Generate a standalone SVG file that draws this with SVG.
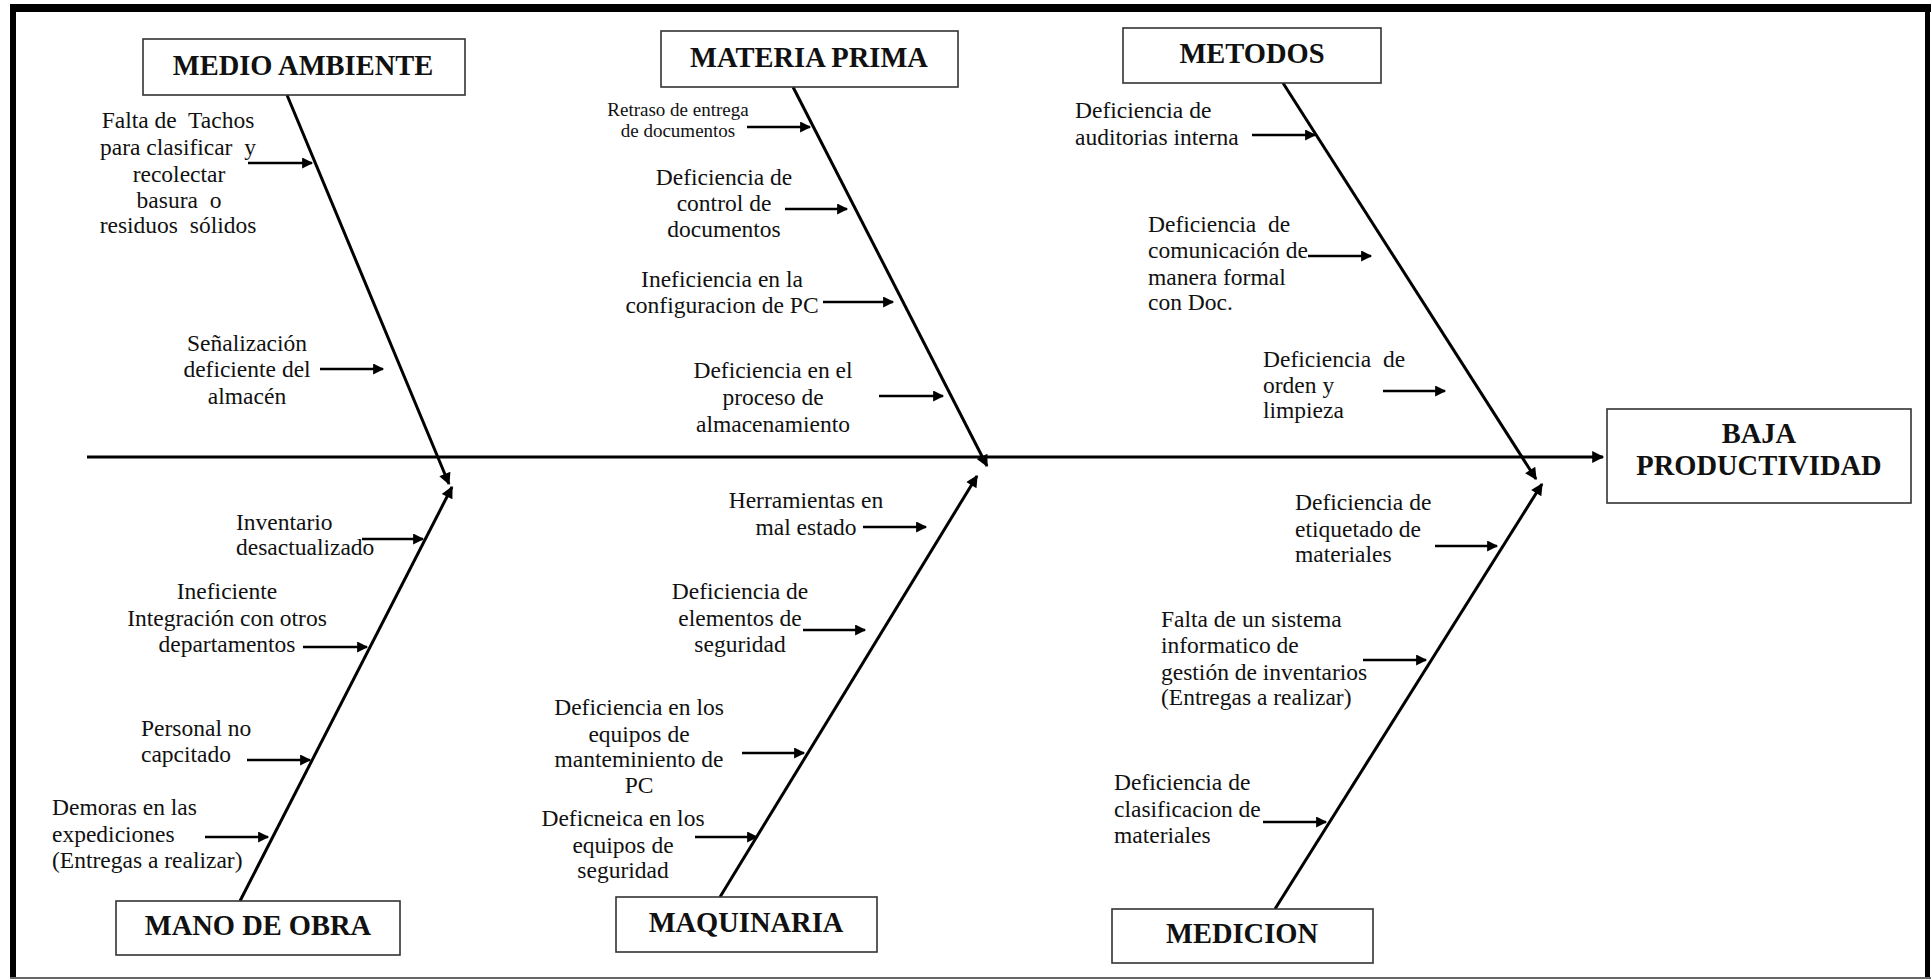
<svg xmlns="http://www.w3.org/2000/svg" width="1931" height="979" viewBox="0 0 1931 979">
<style>
text{font-family:"Liberation Serif","Times New Roman",serif;fill:#111}
.t{font-size:23.5px}
.s{font-size:19px}
.h{font-size:28.5px;font-weight:bold;text-anchor:middle}
.c{text-anchor:middle}
.box{fill:#fff;stroke:#333;stroke-width:1.6}
.bone{stroke:#000;stroke-width:3;fill:none}
.ca{stroke:#000;stroke-width:2.6;fill:none;marker-end:url(#ah)}
</style>
<defs>
<marker id="ah" viewBox="0 0 10 10" refX="9" refY="5" markerWidth="14" markerHeight="11" markerUnits="userSpaceOnUse" orient="auto"><path d="M0,0 L10,5 L0,10 z" fill="#000"/></marker>
<marker id="bh" viewBox="0 0 10 10" refX="9" refY="5" markerWidth="15" markerHeight="12" markerUnits="userSpaceOnUse" orient="auto"><path d="M0,0 L10,5 L0,10 z" fill="#000"/></marker>
</defs>
<rect x="0" y="0" width="1931" height="979" fill="#fff"/>
<g id="frame">
<rect x="10" y="4" width="1921" height="8" fill="#000"/>
<rect x="10" y="4" width="6" height="975" fill="#000"/>
<rect x="1925" y="4" width="5" height="975" fill="#000"/>
<rect x="10" y="977" width="1921" height="2" fill="#666"/>
</g>
<g id="connectors">
<line class="bone" x1="87" y1="457" x2="1603" y2="457" marker-end="url(#bh)"/>
<line class="bone" x1="287" y1="95" x2="449" y2="484" marker-end="url(#bh)"/>
<line class="bone" x1="240" y1="901" x2="452" y2="487" marker-end="url(#bh)"/>
<line class="bone" x1="793" y1="87" x2="987" y2="466" marker-end="url(#bh)"/>
<line class="bone" x1="720" y1="897" x2="977" y2="476" marker-end="url(#bh)"/>
<line class="bone" x1="1283" y1="83" x2="1536" y2="479" marker-end="url(#bh)"/>
<line class="bone" x1="1275" y1="909" x2="1542" y2="484" marker-end="url(#bh)"/>
<line class="ca" x1="248" y1="163" x2="312" y2="163"/>
<line class="ca" x1="320" y1="369" x2="383" y2="369"/>
<line class="ca" x1="747" y1="127" x2="810" y2="127"/>
<line class="ca" x1="785" y1="209" x2="847" y2="209"/>
<line class="ca" x1="823" y1="302" x2="893" y2="302"/>
<line class="ca" x1="879" y1="396" x2="943" y2="396"/>
<line class="ca" x1="1252" y1="135" x2="1315" y2="135"/>
<line class="ca" x1="1308" y1="256" x2="1371" y2="256"/>
<line class="ca" x1="1383" y1="391" x2="1445" y2="391"/>
<line class="ca" x1="362" y1="539" x2="423" y2="539"/>
<line class="ca" x1="303" y1="647" x2="367" y2="647"/>
<line class="ca" x1="247" y1="760" x2="310" y2="760"/>
<line class="ca" x1="205" y1="837" x2="268" y2="837"/>
<line class="ca" x1="863" y1="527" x2="926" y2="527"/>
<line class="ca" x1="803" y1="630" x2="865" y2="630"/>
<line class="ca" x1="742" y1="753" x2="804" y2="753"/>
<line class="ca" x1="695" y1="837" x2="757" y2="837"/>
<line class="ca" x1="1435" y1="546" x2="1497" y2="546"/>
<line class="ca" x1="1363" y1="660" x2="1426" y2="660"/>
<line class="ca" x1="1263" y1="822" x2="1326" y2="822"/>
</g>
<g id="effect">
<rect class="box" x="1607" y="409" width="304" height="94"/>
<text class="h" x="1759" y="443">BAJA</text>
<text class="h" x="1759" y="475">PRODUCTIVIDAD</text>
</g>
<g id="cat-medio-ambiente">
<rect class="box" x="143" y="39" width="322" height="56"/>
<text class="h" x="303" y="75">MEDIO AMBIENTE</text>
</g>
<g id="cat-materia-prima">
<rect class="box" x="661" y="31" width="297" height="56"/>
<text class="h" x="809" y="67">MATERIA PRIMA</text>
</g>
<g id="cat-metodos">
<rect class="box" x="1123" y="28" width="258" height="55"/>
<text class="h" x="1252" y="63">METODOS</text>
</g>
<g id="cat-mano-de-obra">
<rect class="box" x="116" y="901" width="284" height="54"/>
<text class="h" x="258" y="935">MANO DE OBRA</text>
</g>
<g id="cat-maquinaria">
<rect class="box" x="616" y="897" width="261" height="55"/>
<text class="h" x="746" y="932">MAQUINARIA</text>
</g>
<g id="cat-medicion">
<rect class="box" x="1112" y="909" width="261" height="54"/>
<text class="h" x="1242" y="943">MEDICION</text>
</g>
<g id="cause-ma1">
<text class="t c" x="178" y="128" xml:space="preserve">Falta de  Tachos</text>
<text class="t c" x="178" y="155" xml:space="preserve">para clasificar  y</text>
<text class="t c" x="179" y="182">recolectar</text>
<text class="t c" x="179" y="208" xml:space="preserve">basura  o</text>
<text class="t c" x="178" y="233" xml:space="preserve">residuos  sólidos</text>
</g>
<g id="cause-ma2">
<text class="t c" x="247" y="351">Señalización</text>
<text class="t c" x="247" y="377">deficiente del</text>
<text class="t c" x="247" y="404">almacén</text>
</g>
<g id="cause-mp1">
<text class="s c" x="678" y="116">Retraso de entrega</text>
<text class="s c" x="678" y="137">de documentos</text>
</g>
<g id="cause-mp2">
<text class="t c" x="724" y="185">Deficiencia de</text>
<text class="t c" x="724" y="211">control de</text>
<text class="t c" x="724" y="237">documentos</text>
</g>
<g id="cause-mp3">
<text class="t c" x="722" y="287">Ineficiencia en la</text>
<text class="t c" x="722" y="313">configuracion de PC</text>
</g>
<g id="cause-mp4">
<text class="t c" x="773" y="378">Deficiencia en el</text>
<text class="t c" x="773" y="405">proceso de</text>
<text class="t c" x="773" y="432">almacenamiento</text>
</g>
<g id="cause-me1">
<text class="t" x="1075" y="118">Deficiencia de</text>
<text class="t" x="1075" y="145">auditorias interna</text>
</g>
<g id="cause-me2">
<text class="t" x="1148" y="232" xml:space="preserve">Deficiencia  de</text>
<text class="t" x="1148" y="258">comunicación de</text>
<text class="t" x="1148" y="285">manera formal</text>
<text class="t" x="1148" y="310">con Doc.</text>
</g>
<g id="cause-me3">
<text class="t" x="1263" y="367" xml:space="preserve">Deficiencia  de</text>
<text class="t" x="1263" y="393">orden y</text>
<text class="t" x="1263" y="418">limpieza</text>
</g>
<g id="cause-mo1">
<text class="t" x="236" y="530">Inventario</text>
<text class="t" x="236" y="555">desactualizado</text>
</g>
<g id="cause-mo2">
<text class="t c" x="227" y="599">Ineficiente</text>
<text class="t c" x="227" y="626">Integración con otros</text>
<text class="t c" x="227" y="652">departamentos</text>
</g>
<g id="cause-mo3">
<text class="t" x="141" y="736">Personal no</text>
<text class="t" x="141" y="762">capcitado</text>
</g>
<g id="cause-mo4">
<text class="t" x="52" y="815">Demoras en las</text>
<text class="t" x="52" y="842">expediciones</text>
<text class="t" x="52" y="868">(Entregas a realizar)</text>
</g>
<g id="cause-mq1">
<text class="t c" x="806" y="508">Herramientas en</text>
<text class="t c" x="806" y="535">mal estado</text>
</g>
<g id="cause-mq2">
<text class="t c" x="740" y="599">Deficiencia de</text>
<text class="t c" x="740" y="626">elementos de</text>
<text class="t c" x="740" y="652">seguridad</text>
</g>
<g id="cause-mq3">
<text class="t c" x="639" y="715">Deficiencia en los</text>
<text class="t c" x="639" y="742">equipos de</text>
<text class="t c" x="639" y="767">manteminiento de</text>
<text class="t c" x="639" y="793">PC</text>
</g>
<g id="cause-mq4">
<text class="t c" x="623" y="826">Deficneica en los</text>
<text class="t c" x="623" y="853">equipos de</text>
<text class="t c" x="623" y="878">seguridad</text>
</g>
<g id="cause-md1">
<text class="t" x="1295" y="510">Deficiencia de</text>
<text class="t" x="1295" y="537">etiquetado de</text>
<text class="t" x="1295" y="562">materiales</text>
</g>
<g id="cause-md2">
<text class="t" x="1161" y="627">Falta de un sistema</text>
<text class="t" x="1161" y="653">informatico de</text>
<text class="t" x="1161" y="680">gestión de inventarios</text>
<text class="t" x="1161" y="705">(Entregas a realizar)</text>
</g>
<g id="cause-md3">
<text class="t" x="1114" y="790">Deficiencia de</text>
<text class="t" x="1114" y="817">clasificacion de</text>
<text class="t" x="1114" y="843">materiales</text>
</g>
</svg>
